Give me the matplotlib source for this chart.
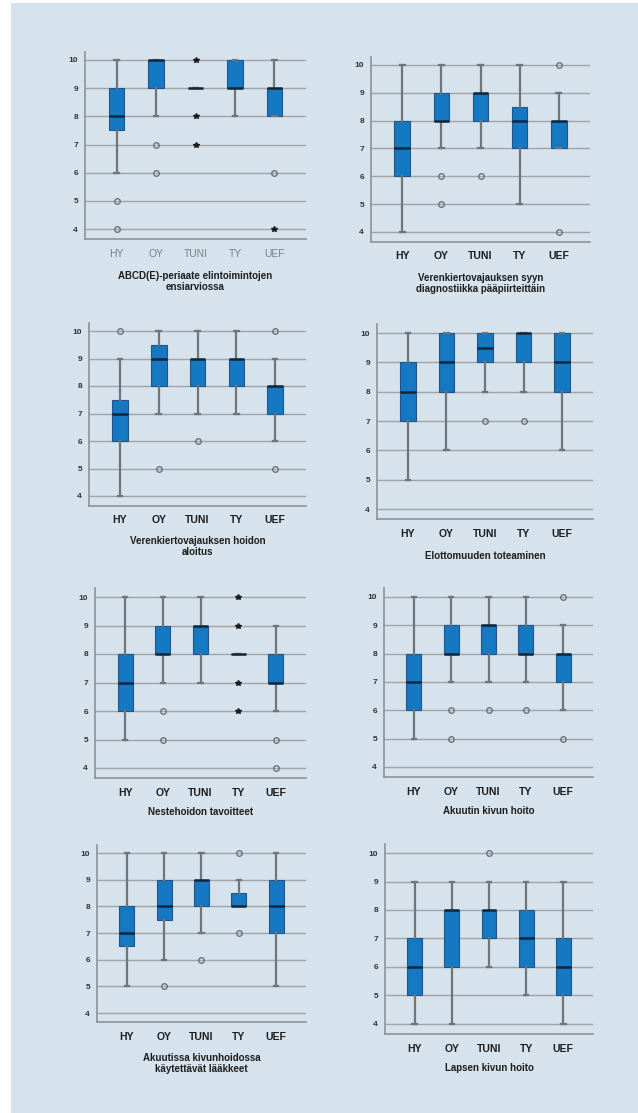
import matplotlib.pyplot as plt
from matplotlib.patches import Rectangle

plt.rcParams['font.family'] = ['Liberation Sans', 'DejaVu Sans']

schools = ['HY', 'OY', 'TUNI', 'TY', 'UEF']
titles = [
    'ABCD(E)-periaate elintoimintojen\nensiarviossa',
    'Verenkiertovajauksen syyn\ndiagnostiikka pääpiirteittäin',
    'Verenkiertovajauksen hoidon\naloitus',
    'Elottomuuden toteaminen',
    'Nestehoidon tavoitteet',
    'Akuutin kivun hoito',
    'Akuutissa kivunhoidossa\nkäytettävät lääkkeet',
    'Lapsen kivun hoito',
]

# box statistics per panel, one value per school (HY, OY, TUNI, TY, UEF)
q1 = [
    [7.5, 9, 9, 9, 8],
    [6, 8, 8, 7, 7],
    [6, 8, 8, 8, 7],
    [7, 8, 9, 9, 8],
    [6, 8, 8, 8, 7],
    [6, 8, 8, 8, 7],
    [6.5, 7.5, 8, 8, 7],
    [5, 6, 7, 6, 5],
]
medians = [
    [8, 10, 9, 9, 9],
    [7, 8, 9, 8, 8],
    [7, 9, 9, 9, 8],
    [8, 9, 9.5, 10, 9],
    [7, 8, 9, 8, 7],
    [7, 8, 9, 8, 8],
    [7, 8, 9, 8, 8],
    [6, 8, 8, 7, 6],
]
q3 = [
    [9, 10, 9, 10, 9],
    [8, 9, 9, 8.5, 8],
    [7.5, 9.5, 9, 9, 8],
    [9, 10, 10, 10, 10],
    [8, 9, 9, 8, 8],
    [8, 9, 9, 9, 8],
    [8, 9, 9, 8.5, 9],
    [7, 8, 8, 8, 7],
]
whisk_lo = [
    [6, 8, 9, 8, 8],
    [4, 7, 7, 5, 7],
    [4, 7, 7, 7, 6],
    [5, 6, 8, 8, 6],
    [5, 7, 7, 8, 6],
    [5, 7, 7, 7, 6],
    [5, 6, 7, 8, 5],
    [4, 4, 6, 5, 4],
]
whisk_hi = [
    [10, 10, 9, 10, 10],
    [10, 10, 10, 10, 9],
    [9, 10, 10, 10, 9],
    [10, 10, 10, 10, 10],
    [10, 10, 10, 8, 9],
    [10, 10, 10, 10, 9],
    [10, 10, 10, 9, 10],
    [9, 9, 9, 9, 9],
]
# open-circle outliers
outliers = [
    [[5, 4], [7, 6], [], [], [6]],
    [[], [6, 5], [6], [], [10, 4]],
    [[10], [5], [6], [], [10, 5]],
    [[], [], [7], [7], []],
    [[], [6, 5], [], [], [5, 4]],
    [[], [6, 5], [6], [6], [10, 5]],
    [[], [5], [6], [10, 7], []],
    [[], [], [10], [], []],
]
# extreme values drawn as stars
extremes = [
    [[], [], [10, 8, 7], [], [4]],
    [[], [], [], [], []],
    [[], [], [], [], []],
    [[], [], [], [], []],
    [[], [], [], [10, 9, 7, 6], []],
    [[], [], [], [], []],
    [[], [], [], [], []],
    [[], [], [], [], []],
]

W, H = 638, 1113
# axes frame in pixels: left, right, y of 10, y of 4
frames = [
    (85, 306, 60, 229), (371, 590, 65, 232),
    (89, 306, 331, 496), (377, 593, 333, 509),
    (95, 306, 597, 768), (384, 593, 597, 767),
    (97, 306, 853, 1013), (385, 593, 853, 1024),
]
title_y = [271, 273, 536, 551, 807, 806, 1053, 1063]

bg = '#d6e2ec'
box_blue = '#1479c2'
grey = '#6f7579'

fig = plt.figure(figsize=(W / 100, H / 100), dpi=100)
fig.patch.set_facecolor('white')
fig.patches.append(Rectangle((11 / W, 0), 1 - 11 / W, 1 - 3 / H,
                             transform=fig.transFigure, facecolor=bg,
                             edgecolor='none', zorder=-10))

for i in range(8):
    left, right, y10, y4 = frames[i]
    ppu = (y4 - y10) / 6
    top = y10 - 0.3 * ppu
    bot = y4 + 0.35 * ppu
    ax = fig.add_axes([left / W, 1 - bot / H, (right - left) / W, (bot - top) / H])
    ax.set_facecolor('none')

    stats = []
    for j in range(5):
        stats.append(dict(med=medians[i][j], q1=q1[i][j], q3=q3[i][j],
                          whislo=whisk_lo[i][j], whishi=whisk_hi[i][j],
                          fliers=outliers[i][j]))
    ax.bxp(stats, positions=range(1, 6), widths=0.4, capwidths=0.12,
           patch_artist=True,
           boxprops=dict(facecolor=box_blue, edgecolor='#24558a', linewidth=0.8),
           medianprops=dict(color='#10263d', linewidth=1.8),
           whiskerprops=dict(color=grey, linewidth=1.6),
           capprops=dict(color=grey, linewidth=1.6),
           flierprops=dict(marker='o', markersize=4, markerfacecolor='none',
                           markeredgecolor='#6d7277', markeredgewidth=1.0),
           zorder=3)
    for j in range(5):
        if extremes[i][j]:
            ax.plot([j + 1] * len(extremes[i][j]), extremes[i][j], linestyle='none',
                    marker='*', markersize=3.8, color='#1c1c1c', zorder=4)

    ax.set_xlim(0.2, 5.8)
    ax.set_ylim(3.65, 10.3)
    ax.set_yticks(range(4, 11))
    ax.set_yticklabels([str(v) for v in range(4, 11)], fontsize=6,
                       fontweight='bold', color='#333333')
    ax.set_xticks(range(1, 6))
    if i == 0:
        ax.set_xticklabels(schools, fontsize=7.5, color='#7a7f85')
    else:
        ax.set_xticklabels(schools, fontsize=7.5, fontweight='bold', color='#1e1e1e')
    ax.tick_params(axis='both', length=0)
    ax.tick_params(axis='x', pad=7)
    ax.tick_params(axis='y', pad=5)
    ax.yaxis.grid(True, color='#9ea4a9', linewidth=1.0, zorder=0)
    ax.set_axisbelow(True)
    for s in ['top', 'right']:
        ax.spines[s].set_visible(False)
    for s in ['left', 'bottom']:
        ax.spines[s].set_color('#8d9297')
        ax.spines[s].set_linewidth(1.2)

    cx = (left + right) / 2 / W
    fig.text(cx, 1 - title_y[i] / H, titles[i], ha='center', va='top',
             fontsize=7, fontweight='bold', color='#1e1e1e', linespacing=1.15)

fig.savefig('out.png', dpi=100, facecolor=fig.get_facecolor())
